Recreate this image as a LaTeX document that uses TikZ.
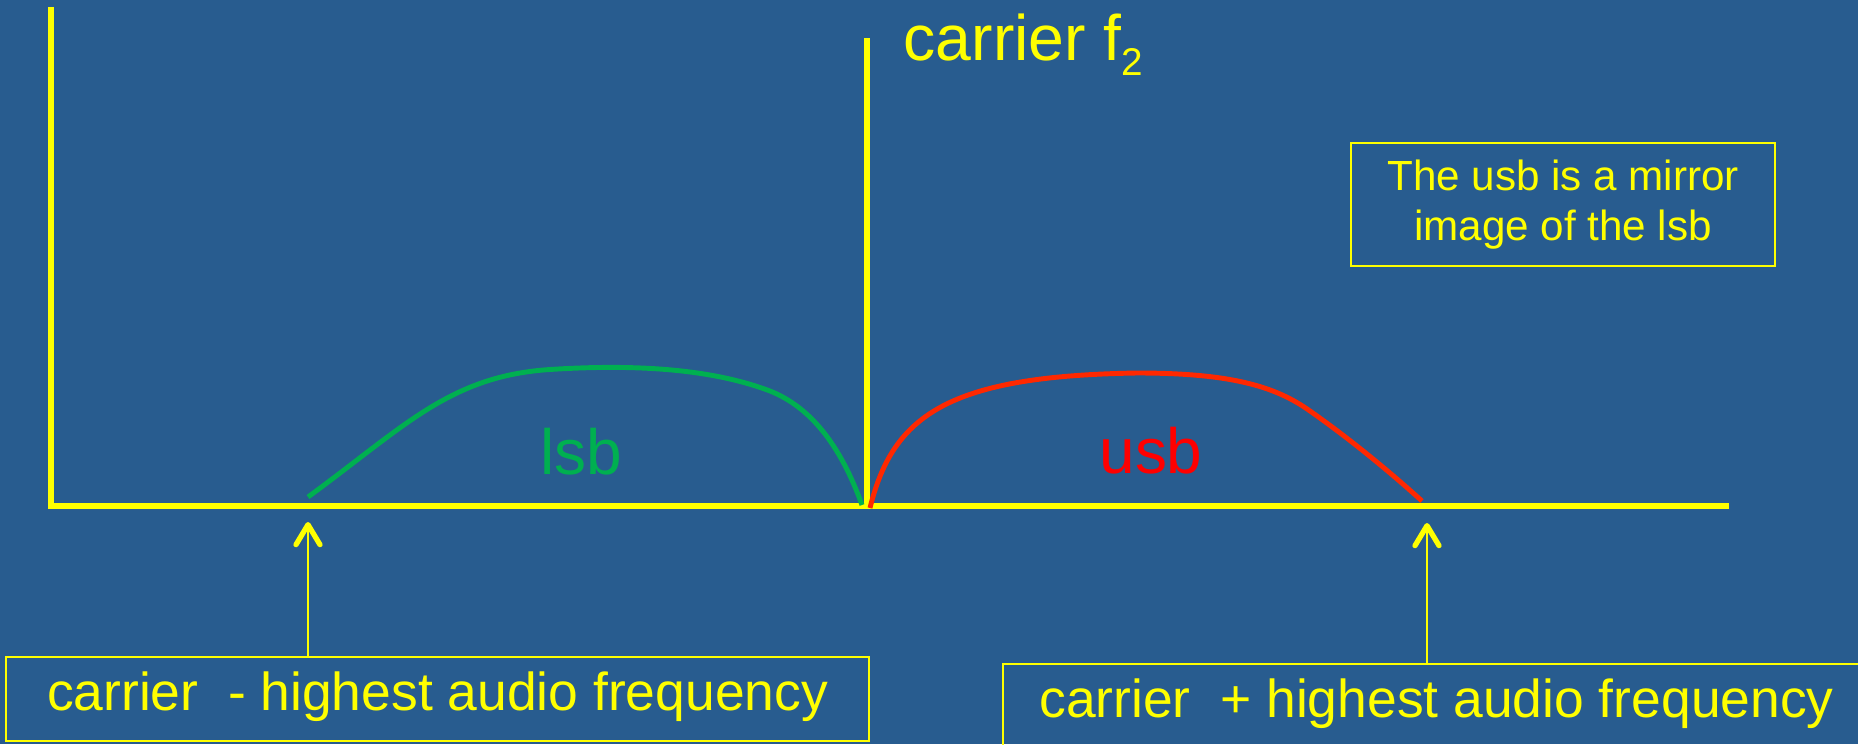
\documentclass[tikz,border=0pt]{standalone}
\usepackage{fontspec}
\setmainfont{Liberation Sans}
\usetikzlibrary{arrows.meta,positioning,calc}
\definecolor{slideblue}{RGB}{40,92,143}
\definecolor{slideyellow}{RGB}{255,255,0}
\definecolor{lsbgreen}{RGB}{0,176,80}
\definecolor{usbred}{RGB}{255,40,0}

\begin{document}
\begin{tikzpicture}[
    axisline/.style={slideyellow, line width=1.45pt},
    sideband/.style={line width=1.4pt},
    notebox/.style={draw=slideyellow, line width=0.57pt, text=slideyellow, inner sep=0pt},
    pointer/.style={slideyellow, line width=0.57pt,
        -{Straight Barb[length=2mm, width=2.4mm, line width=1.5pt, round]}}
  ]
  \path[use as bounding box, clip] (0,0) rectangle (18.58,7.44);
  \fill[slideblue] (0,0) rectangle (18.58,7.44);
  % axes and carrier
  \coordinate (O) at (0.51,2.38);
  \coordinate (ytop) at (0.51,7.37);
  \coordinate (xend) at (17.29,2.38);
  \coordinate (cbase) at (8.67,2.38);
  \coordinate (ctop) at (8.67,7.06);
  \draw[axisline] (ytop) -- (O) -- (xend);
  \draw[axisline] (cbase) -- (ctop);
  \node[anchor=base west, inner sep=0pt, text=slideyellow, font=\fontsize{18.3}{20}\selectfont]
    (carrier) at (9.03,6.84) {carrier f\raisebox{-4.3pt}{\fontsize{11}{11}\selectfont 2}};
  % lower sideband
  \draw[sideband, lsbgreen] (3.08,2.47) .. controls (4.05,3.18) and (4.5,3.68) .. (5.5,3.745)
    .. controls (6.5,3.81) and (7.2,3.72) .. (7.7,3.53)
    .. controls (8.1,3.37) and (8.4,3.0) .. (8.62,2.39);
  \node[lsbgreen, anchor=base, inner sep=0pt, font=\fontsize{18.2}{20}\selectfont]
    (lsb) at (5.81,2.70) {lsb};
  % upper sideband
  \draw[sideband, usbred] (8.70,2.36) .. controls (8.93,3.3) and (9.5,3.68) .. (11.37,3.71)
    .. controls (12.3,3.71) and (12.75,3.58) .. (13.1,3.33)
    .. controls (13.5,3.05) and (13.9,2.72) .. (14.22,2.43);
  \node[red, anchor=base, inner sep=0pt, font=\fontsize{18.2}{20}\selectfont]
    (usb) at (11.51,2.71) {usb};
  % note
  \node[notebox, minimum width=4.24cm, minimum height=1.23cm, align=center,
    font=\fontsize{12}{14.2}\selectfont] (mirror) at (15.63,5.395)
    {The usb is a mirror\\image of the lsb};
  % band edges
  \node[notebox, minimum width=8.63cm, minimum height=0.84cm, text height=1.5ex, text depth=.25ex,
    font=\fontsize{15.2}{18}\selectfont] (lowbox) at (4.375,0.45) {carrier\ \ - highest audio frequency};
  \node[notebox, minimum width=8.67cm, minimum height=0.84cm, text height=1.5ex, text depth=.25ex,
    font=\fontsize{15.2}{18}\selectfont] (highbox) at (14.365,0.38) {carrier\ \ + highest audio frequency};
  \coordinate (lowtip) at (3.08,2.22);
  \coordinate (hightip) at (14.27,2.21);
  \draw[pointer] (lowbox.north -| lowtip) -- (lowtip);
  \draw[pointer] (highbox.north -| hightip) -- (hightip);
\end{tikzpicture}
\end{document}
